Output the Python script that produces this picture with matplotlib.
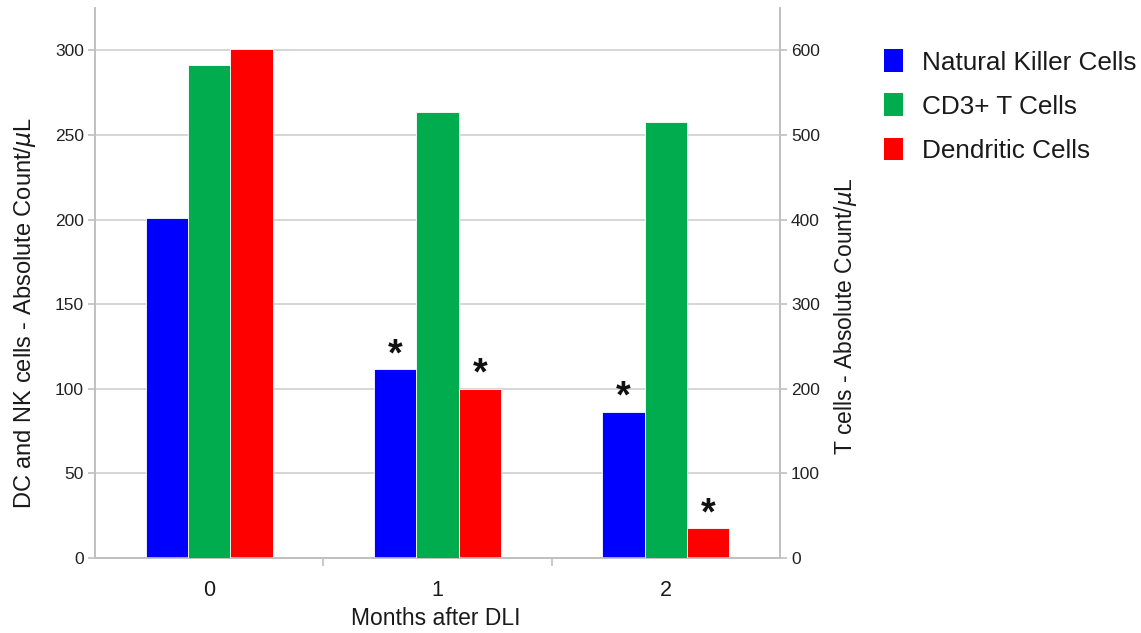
import matplotlib
matplotlib.use("Agg")
import matplotlib.pyplot as plt
from matplotlib.patches import Patch
import numpy as np

plt.rcParams['font.family'] = ['Liberation Sans', 'DejaVu Sans']

months = ["0", "1", "2"]
nk_cells = [201, 111.5, 86.5]
dc_cells = [301, 100, 17.5]
t_cells = [583, 527, 515]
nk_sig = [False, True, True]
dc_sig = [False, True, True]

series_labels = ["Natural Killer Cells", "CD3+ T Cells", "Dendritic Cells"]
colors = ["#0000ff", "#00ac4e", "#ff0000"]
grid_color = "#d0d0d0"
spine_color = "#c0c0c0"
text_color = "#1a1a1a"

fig = plt.figure(figsize=(11.41, 6.33), dpi=100)
ax = fig.add_axes([95/1141, 1-558/633, (780-95)/1141, (558-8)/633])
ax2 = ax.twinx()

x = np.arange(len(months))
w = 0.185
b1 = ax.bar(x - w, nk_cells, width=w, color=colors[0], edgecolor="white", linewidth=0.6, zorder=3)
b3 = ax.bar(x + w, dc_cells, width=w, color=colors[2], edgecolor="white", linewidth=0.6, zorder=3)
b2 = ax2.bar(x, t_cells, width=w, color=colors[1], edgecolor="white", linewidth=0.6, zorder=3)

ax.set_ylim(0, 325)
ax2.set_ylim(0, 650)
ax.set_xlim(-0.5, 2.5)
ax.set_yticks(np.arange(0, 301, 50))
ax2.set_yticks(np.arange(0, 601, 100))
ax.yaxis.grid(True, color=grid_color, linewidth=1.2, zorder=0)
ax.set_axisbelow(True)

ax.set_xticks(x)
ax.set_xticklabels(months, fontsize=15.5, color=text_color)
ax.set_xticks([0.5, 1.5], minor=True)
ax.tick_params(axis='x', which='major', length=0, pad=16)
ax.tick_params(axis='x', which='minor', length=6, color=spine_color, width=1.2)
ax.tick_params(axis='y', length=5, color=spine_color, width=1.2, labelsize=12.5, labelcolor="#222222", pad=3)
ax2.tick_params(axis='y', length=5, color=spine_color, width=1.2, labelsize=12.5, labelcolor="#222222", pad=3)

for a in (ax, ax2):
    a.spines['top'].set_visible(False)
    for s in ('left', 'right', 'bottom'):
        a.spines[s].set_color(spine_color)
        a.spines[s].set_linewidth(1.2)

ax.set_xlabel("Months after DLI", fontsize=16.5, color=text_color)
ax.xaxis.set_label_coords((436-95)/685, (558-607)/550)
ax.set_ylabel("DC and NK cells - Absolute Count/$\\mu$L", fontsize=17, color=text_color)
ax.yaxis.set_label_coords((38-95)/685, (558-313)/550)
ax2.set_ylabel("T cells - Absolute Count/$\\mu$L", fontsize=16.5, color=text_color)
ax2.yaxis.set_label_coords((832-95)/685, (558-316)/550)

for bars, sig in ((b1, nk_sig), (b3, dc_sig)):
    for rect, s in zip(bars, sig):
        if s:
            ax.annotate("*", (rect.get_x() + rect.get_width()/2, rect.get_height()),
                        xytext=(0, -3), textcoords="offset points", ha="center", va="bottom",
                        fontsize=27, fontweight="bold", color="#111111")

handles = [Patch(facecolor=c, edgecolor="none") for c in colors]
fig.legend(handles, series_labels, loc="upper left", bbox_to_anchor=(874/1141, 1-39/633),
           frameon=False, fontsize=18.8, handlelength=0.72, handleheight=0.95,
           handletextpad=0.72, labelspacing=0.72, labelcolor=text_color,
           borderaxespad=0, borderpad=0.4)

fig.savefig("out.png", dpi=100)
